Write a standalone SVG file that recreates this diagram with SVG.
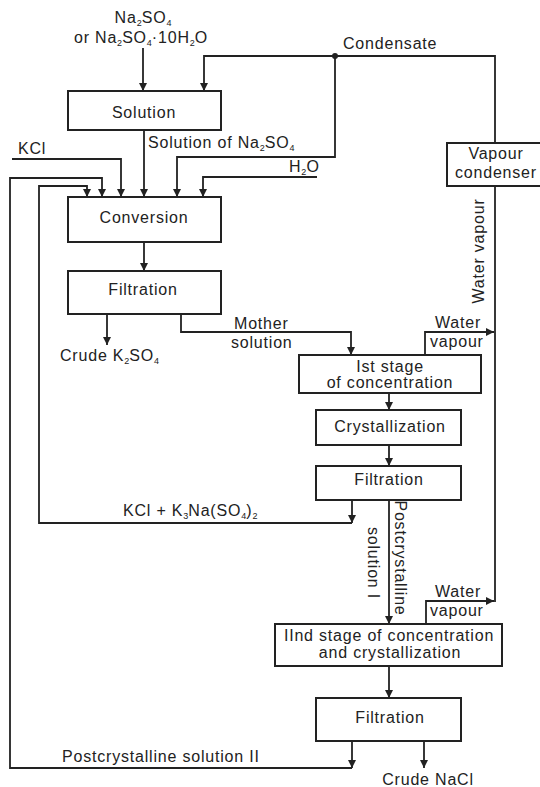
<svg xmlns="http://www.w3.org/2000/svg" width="540" height="787" viewBox="0 0 540 787">
<defs>
<style>
text{font-family:"Liberation Sans",Arial,sans-serif;font-size:16px;fill:#222;letter-spacing:0.8px}
.m{text-anchor:middle}
.s{font-size:9px;letter-spacing:0}
.box{fill:#fff;stroke:#222;stroke-width:2}
.ln{fill:none;stroke:#222;stroke-width:1.8}
.ar{fill:none;stroke:#222;stroke-width:1.8;marker-end:url(#ah)}
</style>
<marker id="ah" markerUnits="userSpaceOnUse" markerWidth="10" markerHeight="10" refX="8" refY="4" orient="auto">
<path d="M0,0 L8,4 L0,8 Z" fill="#222"/>
</marker>
</defs>
<rect width="540" height="787" fill="#fff"/>

<g id="connectors">
<path class="ar" d="M143,48 V91"/>
<path class="ar" d="M495,143 V56 H204 V91"/>
<circle cx="335" cy="56" r="3" fill="#222"/>
<path class="ar" d="M335,56 V157 H177 V197"/>
<path class="ar" d="M144,130 V197"/>
<path class="ar" d="M12,159 H121 V197"/>
<path class="ar" d="M317,177 H203 V197"/>
<path class="ar" d="M352,741 V768"/>
<path class="ar" d="M352,768 H10 V178 H102 V197"/>
<path class="ar" d="M352,500 V523"/>
<path class="ar" d="M352,523 H39 V186 H87 V197"/>
<path class="ar" d="M144,242 V271"/>
<path class="ar" d="M107,314 V345"/>
<path class="ar" d="M181,314 V332 H351 V355"/>
<path class="ar" d="M389,393 V410"/>
<path class="ar" d="M389,445 V466"/>
<path class="ar" d="M389,500 V624"/>
<path class="ar" d="M389,666 V698"/>
<path class="ar" d="M424,741 V768"/>
<path class="ar" d="M425,355 V332 H494"/>
<path class="ar" d="M426,624 V601 H494"/>
<path class="ln" d="M495,186 V602"/>
</g>

<g id="labels">
<text class="m" x="143" y="23">Na<tspan class="s" dy="3">2</tspan><tspan dy="-3">SO</tspan><tspan class="s" dy="3">4</tspan></text>
<text class="m" x="141" y="43">or Na<tspan class="s" dy="3">2</tspan><tspan dy="-3">SO</tspan><tspan class="s" dy="3">4</tspan><tspan dy="-3">·10H</tspan><tspan class="s" dy="3">2</tspan><tspan dy="-3">O</tspan></text>
<text x="343" y="49">Condensate</text>
<text x="148" y="148">Solution of Na<tspan class="s" dy="3">2</tspan><tspan dy="-3">SO</tspan><tspan class="s" dy="3">4</tspan></text>
<text x="18" y="154">KCl</text>
<text x="289" y="172">H<tspan class="s" dy="3">2</tspan><tspan dy="-3">O</tspan></text>
<text x="60" y="361">Crude K<tspan class="s" dy="3">2</tspan><tspan dy="-3">SO</tspan><tspan class="s" dy="3">4</tspan></text>
<text x="234" y="329">Mother</text>
<text x="231" y="348">solution</text>
<text x="435" y="328">Water</text>
<text x="430" y="347">vapour</text>
<text x="435" y="597">Water</text>
<text x="430" y="616">vapour</text>
<text class="m" transform="translate(484,251) rotate(-90)">Water vapour</text>
<text x="123" y="516">KCl + K<tspan class="s" dy="3">3</tspan><tspan dy="-3">Na(SO</tspan><tspan class="s" dy="3">4</tspan><tspan dy="-3">)</tspan><tspan class="s" dy="3">2</tspan></text>
<text class="m" transform="translate(395,558) rotate(90)">Postcrystalline</text>
<text class="m" transform="translate(368,563) rotate(90)">solution I</text>
<text x="62" y="762">Postcrystalline solution II</text>
<text class="m" x="428" y="785">Crude NaCl</text>
</g>

<g id="n-solution"><rect class="box" x="68" y="91" width="153" height="39"/><text class="m" x="144" y="118">Solution</text></g>
<g id="n-condenser"><rect class="box" x="447" y="143" width="96" height="43"/><text class="m" x="496" y="159">Vapour</text><text class="m" x="496" y="178">condenser</text></g>
<g id="n-conversion"><rect class="box" x="68" y="197" width="153" height="45"/><text class="m" x="144" y="223">Conversion</text></g>
<g id="n-filtration1"><rect class="box" x="68" y="271" width="153" height="43"/><text class="m" x="143" y="295">Filtration</text></g>
<g id="n-stage1"><rect class="box" x="299" y="355" width="182" height="38"/><text class="m" x="390" y="372">Ist stage</text><text class="m" x="390" y="388">of concentration</text></g>
<g id="n-crystallization"><rect class="box" x="316" y="410" width="145" height="35"/><text class="m" x="390" y="432">Crystallization</text></g>
<g id="n-filtration2"><rect class="box" x="316" y="466" width="145" height="34"/><text class="m" x="389" y="485">Filtration</text></g>
<g id="n-stage2"><rect class="box" x="275" y="624" width="227" height="42"/><text class="m" x="389" y="641">IInd stage of concentration</text><text class="m" x="390" y="658">and crystallization</text></g>
<g id="n-filtration3"><rect class="box" x="316" y="698" width="145" height="43"/><text class="m" x="390" y="723">Filtration</text></g>
</svg>
